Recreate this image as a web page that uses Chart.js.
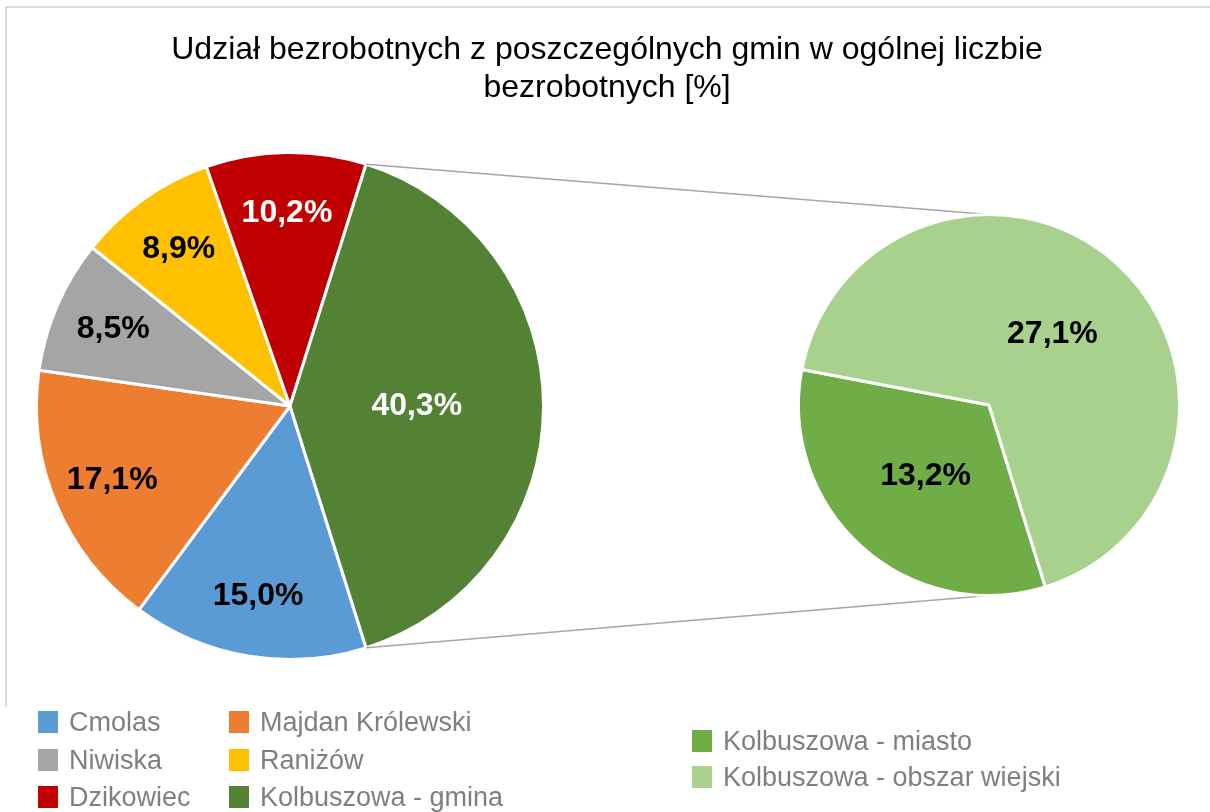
<!DOCTYPE html>
<html lang="pl">
<head>
<meta charset="utf-8">
<title>Udział bezrobotnych z poszczególnych gmin</title>
<script src="https://cdn.jsdelivr.net/npm/chart.js@4.4.1/dist/chart.umd.min.js"></script>
<style>
  body { margin: 0; background: #fff; font-family: "Liberation Sans", Arial, sans-serif; }
  #wrap { position: relative; width: 1210px; height: 812px; overflow: hidden; }
  #frame { position: absolute; left: 5px; top: 6px; width: 1210px; height: 699px;
           border-top: 2px solid #d9d9d9; border-left: 2px solid #d9d9d9; }
  canvas { position: absolute; left: 0; top: 0; }
  #title { position: absolute; left: 0; top: 29px; width: 1214px; text-align: center;
           font-size: 32px; line-height: 38px; color: #000; }
  .lg { position: absolute; font-size: 27px; line-height: 30px; color: #7f7f7f; white-space: nowrap; }
  .lg span { position: absolute; left: 0; top: 4px; width: 20px; height: 22px; }
</style>
</head>
<body>
<div id="wrap">
  <div id="frame"></div>
  <canvas id="mainPie" width="1210" height="812"></canvas>
  <canvas id="subPie" width="1210" height="812"></canvas>
  <div id="title">Udział bezrobotnych z poszczególnych gmin w ogólnej liczbie<br>bezrobotnych [%]</div>
  <div id="legend"></div>
</div>
<script>
// data
const mainLabels = ['Cmolas', 'Majdan Królewski', 'Niwiska', 'Raniżów', 'Dzikowiec', 'Kolbuszowa - gmina'];
const mainValues = [15.0, 17.1, 8.5, 8.9, 10.2, 40.3];
const mainColors = ['#5b9bd5', '#ed7d31', '#a5a5a5', '#ffc000', '#c00000', '#548235'];

const subLabels = ['Kolbuszowa - miasto', 'Kolbuszowa - obszar wiejski'];
const subValues = [13.2, 27.1];
const subColors = ['#70ad47', '#a9d18e'];

// layout: padding so the pie sits at (cx, cy) with visible radius r
function padFor(cx, cy, r, bw) {
  const size = 2 * (r + bw / 2) + bw;
  const left = cx - size / 2, top = cy - size / 2;
  return { left: left, top: top, right: 1210 - left - size, bottom: 812 - top - size };
}

function fmt(v) { return v.toFixed(1).replace('.', ',') + '%'; }

const pieLabels = {
  id: 'pieLabels',
  afterDatasetsDraw(chart) {
    const ctx = chart.ctx;
    const ds = chart.data.datasets[0];
    ctx.save();
    ctx.font = 'bold 32px "Liberation Sans", Arial, sans-serif';
    ctx.textAlign = 'center';
    ctx.textBaseline = 'middle';
    chart.getDatasetMeta(0).data.forEach((arc, i) => {
      const span = arc.endAngle - arc.startAngle;
      const mid = (arc.startAngle + arc.endAngle) / 2;
      const r = arc.outerRadius * (span > Math.PI / 2 ? 0.5 : 0.76);
      ctx.fillStyle = ds.labelColors[i];
      ctx.fillText(fmt(ds.data[i]), arc.x + r * Math.cos(mid), arc.y + r * Math.sin(mid));
    });
    ctx.restore();
  }
};

const total = mainValues.reduce((a, b) => a + b, 0);
const split = mainValues[mainValues.length - 1];

const mainChart = new Chart(document.getElementById('mainPie'), {
  type: 'pie',
  data: {
    labels: mainLabels,
    datasets: [{
      data: mainValues,
      backgroundColor: mainColors,
      borderColor: '#ffffff',
      borderWidth: 3,
      labelColors: ['#000', '#000', '#000', '#000', '#fff', '#fff']
    }]
  },
  options: {
    responsive: false,
    animation: false,
    events: [],
    rotation: 90 + split / total * 180,
    layout: { padding: padFor(290, 406, 252, 3) },
    plugins: { legend: { display: false }, tooltip: { enabled: false } }
  },
  plugins: [pieLabels]
});

const connectors = {
  id: 'connectors',
  beforeDatasetsDraw(chart) {
    const arcs = mainChart.getDatasetMeta(0).data;
    const big = arcs[arcs.length - 1];
    const s = chart.getDatasetMeta(0).data[0];
    const R = big.outerRadius;
    const ctx = chart.ctx;
    ctx.save();
    ctx.strokeStyle = '#a6a6a6';
    ctx.lineWidth = 1.5;
    ctx.beginPath();
    ctx.moveTo(big.x + R * Math.cos(big.startAngle), big.y + R * Math.sin(big.startAngle));
    ctx.lineTo(s.x, s.y - s.outerRadius);
    ctx.moveTo(big.x + R * Math.cos(big.endAngle), big.y + R * Math.sin(big.endAngle));
    ctx.lineTo(s.x, s.y + s.outerRadius);
    ctx.stroke();
    ctx.restore();
  }
};

new Chart(document.getElementById('subPie'), {
  type: 'pie',
  data: {
    labels: subLabels,
    datasets: [{
      data: subValues,
      backgroundColor: subColors,
      borderColor: '#ffffff',
      borderWidth: 3,
      labelColors: ['#000', '#000']
    }]
  },
  options: {
    responsive: false,
    animation: false,
    events: [],
    rotation: 162.8,
    layout: { padding: padFor(989, 405, 189, 3) },
    plugins: { legend: { display: false }, tooltip: { enabled: false } }
  },
  plugins: [connectors, pieLabels]
});

// legend: two columns for the main pie, one for the second pie
const legend = document.getElementById('legend');
function addItem(text, color, x, cy) {
  const d = document.createElement('div');
  d.className = 'lg';
  d.style.left = x + 'px';
  d.style.top = (cy - 15) + 'px';
  d.style.paddingLeft = '31px';
  d.innerHTML = '<span style="background:' + color + '"></span>';
  d.appendChild(document.createTextNode(text));
  legend.appendChild(d);
}
mainLabels.forEach((l, i) => {
  addItem(l, mainColors[i], i % 2 ? 229 : 38, 722 + Math.floor(i / 2) * 37.5);
});
subLabels.forEach((l, i) => {
  addItem(l, subColors[i], 692, 741 + i * 36);
});
</script>
</body>
</html>
